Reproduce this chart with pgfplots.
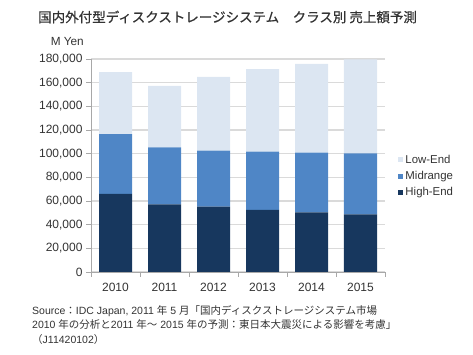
\documentclass[border=0pt]{standalone}
\usepackage{fontspec}
\setmainfont{Liberation Sans}
\newfontfamily\cjk{Noto Sans CJK JP}
\newfontfamily\cjkt[FakeBold=0.6]{Noto Sans CJK JP}
\usepackage{pgfplots}
\pgfplotsset{compat=1.18}
\definecolor{hi}{HTML}{17375E}
\definecolor{mid}{HTML}{4F86C6}
\definecolor{lo}{HTML}{DCE6F2}
\definecolor{gridgray}{HTML}{DADADA}
\definecolor{axgray}{HTML}{A8A8A8}
\definecolor{txt}{HTML}{333333}
\begin{document}
\begin{tikzpicture}[x=1pt,y=1pt]
\path[use as bounding box] (0,0) rectangle (473,355);
\node[anchor=west, inner sep=0pt, text=txt, font=\cjkt\fontsize{13.5}{16}\selectfont] at (38,338) {国内外付型ディスクストレージシステム　クラス別 売上額予測};
\node[anchor=east, inner sep=0pt, text=txt, font=\fontsize{11.8}{14}\selectfont] at (84,313) {M Yen};
\begin{axis}[
  at={(91pt,83pt)}, anchor=south west,
  scale only axis, width=294pt, height=213pt,
  ybar stacked, bar width=33pt,
  xmin=-0.5, xmax=5.5, ymin=0, ymax=180000,
  xtick={0,1,2,3,4,5},
  xticklabels={2010,2011,2012,2013,2014,2015},
  minor xtick={-0.5,0.5,1.5,2.5,3.5,4.5,5.5},
  ytick={0,20000,40000,60000,80000,100000,120000,140000,160000,180000},
  yticklabels={0,{20,000},{40,000},{60,000},{80,000},{100,000},{120,000},{140,000},{160,000},{180,000}},
  axis x line*=bottom, axis y line*=left,
  axis line style={draw=axgray, line width=0.8pt},
  tick align=outside,
  major tick length=5pt, minor tick length=5pt,
  every major x tick/.append style={draw=none},
  every tick/.append style={draw=axgray, line width=0.8pt},
  ymajorgrids, grid style={draw=gridgray, line width=1.3pt},
  scaled y ticks=false,
  tick label style={text=txt, font=\fontsize{12}{14}\selectfont},
  xticklabel style={yshift=-3pt},
  legend style={at={(1.035,0.45)}, anchor=west, draw=none, fill=none,
    font=\fontsize{11.4}{13}\selectfont, text=txt, row sep=2.5pt},
  legend cell align=left,
  reverse legend,
]
\addplot[fill=hi, draw=none, legend image code/.code={\fill[hi] (0pt,-2.5pt) rectangle (5pt,2.5pt);}]
  coordinates {(0,66000) (1,57200) (2,55200) (3,52400) (4,50400) (5,48700)};
\addlegendentry{High-End}
\addplot[fill=mid, draw=none, legend image code/.code={\fill[mid] (0pt,-2.5pt) rectangle (5pt,2.5pt);}]
  coordinates {(0,50600) (1,48200) (2,47300) (3,49300) (4,50400) (5,51600)};
\addlegendentry{Midrange}
\addplot[fill=lo, draw=none, legend image code/.code={\fill[lo] (0pt,-2.5pt) rectangle (5pt,2.5pt);}]
  coordinates {(0,52200) (1,51800) (2,62300) (3,69800) (4,75000) (5,79400)};
\addlegendentry{Low-End}
\end{axis}
\node[anchor=north west, inner sep=0pt, align=left, text=txt, font=\fontsize{10.5}{14.5}\selectfont] at (32,50) {%
Source{\cjk ：}IDC Japan, 2011 {\cjk 年} 5 {\cjk 月「国内ディスクストレージシステム市場}\\
2010 {\cjk 年の分析と}2011 {\cjk 年～} 2015 {\cjk 年の予測：東日本大震災による影響を考慮」}\\
{\cjk （}J11420102{\cjk ）}};
\end{tikzpicture}
\end{document}
